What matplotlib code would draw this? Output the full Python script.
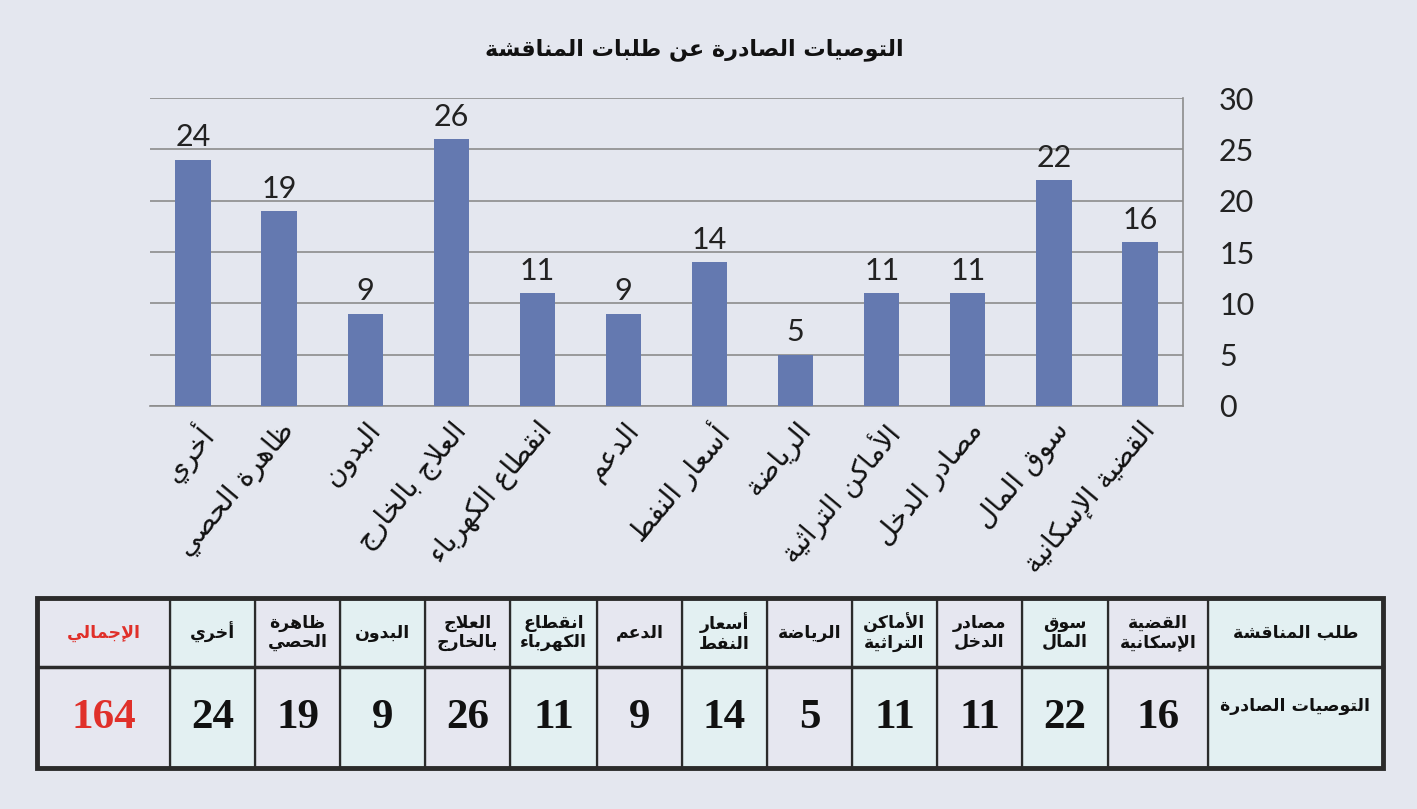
import matplotlib
matplotlib.use("Agg")
import matplotlib.pyplot as plt
from matplotlib.patches import Rectangle

# البيانات بترتيب الجدول (من اليمين إلى اليسار)
categories = ["القضية الإسكانية", "سوق المال", "مصادر الدخل", "الأماكن التراثية",
              "الرياضة", "أسعار النفط", "الدعم", "انقطاع الكهرباء",
              "العلاج بالخارج", "البدون", "ظاهرة الحصي", "أخري"]
values = [16, 22, 11, 11, 5, 14, 9, 11, 26, 9, 19, 24]
header_labels = ["القضية\nالإسكانية", "سوق\nالمال", "مصادر\nالدخل", "الأماكن\nالتراثية",
                 "الرياضة", "أسعار\nالنفط", "الدعم", "انقطاع\nالكهرباء",
                 "العلاج\nبالخارج", "البدون", "ظاهرة\nالحصي", "أخري"]
row_header = "طلب المناقشة"
row_label = "التوصيات الصادرة"
total_label = "الإجمالي"
total_value = 164
title = "التوصيات الصادرة عن طلبات المناقشة"
y_ticks = [0, 5, 10, 15, 20, 25, 30]

# تشكيل الحروف العربية يدوياً (matplotlib لا يشكل العربية)
FORMS = {
    'ء': (0xFE80,), 'آ': (0xFE81, 0xFE82), 'أ': (0xFE83, 0xFE84), 'ؤ': (0xFE85, 0xFE86),
    'إ': (0xFE87, 0xFE88), 'ئ': (0xFE89, 0xFE8A, 0xFE8B, 0xFE8C), 'ا': (0xFE8D, 0xFE8E),
    'ب': (0xFE8F, 0xFE90, 0xFE91, 0xFE92), 'ة': (0xFE93, 0xFE94),
    'ت': (0xFE95, 0xFE96, 0xFE97, 0xFE98), 'ث': (0xFE99, 0xFE9A, 0xFE9B, 0xFE9C),
    'ج': (0xFE9D, 0xFE9E, 0xFE9F, 0xFEA0), 'ح': (0xFEA1, 0xFEA2, 0xFEA3, 0xFEA4),
    'خ': (0xFEA5, 0xFEA6, 0xFEA7, 0xFEA8), 'د': (0xFEA9, 0xFEAA), 'ذ': (0xFEAB, 0xFEAC),
    'ر': (0xFEAD, 0xFEAE), 'ز': (0xFEAF, 0xFEB0), 'س': (0xFEB1, 0xFEB2, 0xFEB3, 0xFEB4),
    'ش': (0xFEB5, 0xFEB6, 0xFEB7, 0xFEB8), 'ص': (0xFEB9, 0xFEBA, 0xFEBB, 0xFEBC),
    'ض': (0xFEBD, 0xFEBE, 0xFEBF, 0xFEC0), 'ط': (0xFEC1, 0xFEC2, 0xFEC3, 0xFEC4),
    'ظ': (0xFEC5, 0xFEC6, 0xFEC7, 0xFEC8), 'ع': (0xFEC9, 0xFECA, 0xFECB, 0xFECC),
    'غ': (0xFECD, 0xFECE, 0xFECF, 0xFED0), 'ف': (0xFED1, 0xFED2, 0xFED3, 0xFED4),
    'ق': (0xFED5, 0xFED6, 0xFED7, 0xFED8), 'ك': (0xFED9, 0xFEDA, 0xFEDB, 0xFEDC),
    'ل': (0xFEDD, 0xFEDE, 0xFEDF, 0xFEE0), 'م': (0xFEE1, 0xFEE2, 0xFEE3, 0xFEE4),
    'ن': (0xFEE5, 0xFEE6, 0xFEE7, 0xFEE8), 'ه': (0xFEE9, 0xFEEA, 0xFEEB, 0xFEEC),
    'و': (0xFEED, 0xFEEE), 'ى': (0xFEEF, 0xFEF0), 'ي': (0xFEF1, 0xFEF2, 0xFEF3, 0xFEF4),
}
LAM_ALEF = {'آ': (0xFEF5, 0xFEF6), 'أ': (0xFEF7, 0xFEF8), 'إ': (0xFEF9, 0xFEFA), 'ا': (0xFEFB, 0xFEFC)}


def joins_next(c):
    return c in FORMS and len(FORMS[c]) == 4


def shape_line(s):
    out = []
    i = 0
    n = len(s)
    while i < n:
        c = s[i]
        if c not in FORMS:
            out.append(c)
            i += 1
            continue
        prev = s[i - 1] if i > 0 else ''
        jp = joins_next(prev)
        if c == 'ل' and i + 1 < n and s[i + 1] in LAM_ALEF:
            out.append(chr(LAM_ALEF[s[i + 1]][1 if jp else 0]))
            i += 2
            continue
        nxt = s[i + 1] if i + 1 < n else ''
        jn = joins_next(c) and nxt in FORMS
        f = FORMS[c]
        if jp and jn:
            out.append(chr(f[3]))
        elif jp:
            out.append(chr(f[1]))
        elif jn:
            out.append(chr(f[2]))
        else:
            out.append(chr(f[0]))
        i += 1
    return ''.join(out)[::-1]


def ar(s):
    return '\n'.join(shape_line(line) for line in s.split('\n'))


BG = '#E4E7EF'
BAR = '#6479B0'
GRID = '#8C8C8C'
CYAN = '#E3F0F2'
LAV = '#E6E7F0'
RED = '#E0302A'
AR_FONT = 'DejaVu Sans'
NUM_FONT = 'Lato'

fig = plt.figure(figsize=(14.17, 8.09), dpi=100)
fig.patch.set_facecolor(BG)

W, H = 1417, 809
ax = fig.add_axes([150 / W, 1 - 406 / H, (1183 - 150) / W, (406 - 98) / H])
ax.set_facecolor(BG)

x = list(range(len(categories)))
bars = ax.bar(x, values, width=0.41, color=BAR, zorder=3)
ax.set_xlim(-0.5, len(categories) - 0.5)
ax.invert_xaxis()
ax.set_ylim(0, 30)
ax.set_yticks(y_ticks)
ax.yaxis.tick_right()
ax.tick_params(axis='y', length=0, pad=26, labelsize=22, labelcolor='#222222')
for lab in ax.get_yticklabels():
    lab.set_fontfamily(NUM_FONT)
ax.grid(axis='y', color=GRID, linewidth=1.2, zorder=0)
for side in ['left', 'top']:
    ax.spines[side].set_visible(False)
for side in ['right', 'bottom']:
    ax.spines[side].set_color(GRID)
    ax.spines[side].set_linewidth(1.2)

for b, v in zip(bars, values):
    ax.text(b.get_x() + b.get_width() / 2, v + 0.8, str(v), ha='center', va='bottom',
            fontsize=22, family=NUM_FONT, color='#222222')

ax.set_xticks(x)
ax.set_xticklabels([ar(c) for c in categories], rotation=50, ha='right',
                   rotation_mode='anchor', fontsize=20, family=AR_FONT, color='#111111')
ax.tick_params(axis='x', length=0, pad=8)

fig.text(694 / W, 1 - 50 / H, ar(title), ha='center', va='center', fontsize=16,
         fontweight='bold', family=AR_FONT, color='#111111')

# الجدول
tax = fig.add_axes([0, 0, 1, 1])
tax.set_xlim(0, W)
tax.set_ylim(H, 0)
tax.axis('off')

edges = [1383, 1208, 1108, 1022, 937, 852, 767, 682, 597, 510, 425, 340, 255, 170, 37]
y0, y1, y2 = 598, 667, 768

headers = [row_header] + header_labels + [total_label]
cells = [row_label] + [str(v) for v in values] + [str(total_value)]
for k in range(len(headers)):
    xr, xl = edges[k], edges[k + 1]
    col = CYAN if k % 2 == 0 else LAV
    tax.add_patch(Rectangle((xl, y0), xr - xl, y2 - y0, facecolor=col,
                            edgecolor='#2b2b2b', linewidth=1.6))
    xc = (xl + xr) / 2
    is_total = k == len(headers) - 1
    tcol = RED if is_total else '#111111'
    tax.text(xc, (y0 + y1) / 2, ar(headers[k]), ha='center', va='center',
             fontsize=12.5, fontweight='bold', family=AR_FONT, color=tcol, linespacing=1.1)
    if k == 0:
        tax.text(xc, 706, ar(cells[k]), ha='center', va='center', fontsize=12.5,
                 fontweight='bold', family=AR_FONT, color='#111111')
    else:
        tax.text(xc, (y1 + y2) / 2, cells[k], ha='center', va='center', fontsize=31,
                 fontweight='bold', family='Liberation Serif', color=tcol)
tax.plot([edges[-1], edges[0]], [y1, y1], color='#2b2b2b', linewidth=2.5)
tax.add_patch(Rectangle((edges[-1], y0), edges[0] - edges[-1], y2 - y0, facecolor='none',
                        edgecolor='#2b2b2b', linewidth=3.5))

fig.savefig('out.png', dpi=100, facecolor=BG)
